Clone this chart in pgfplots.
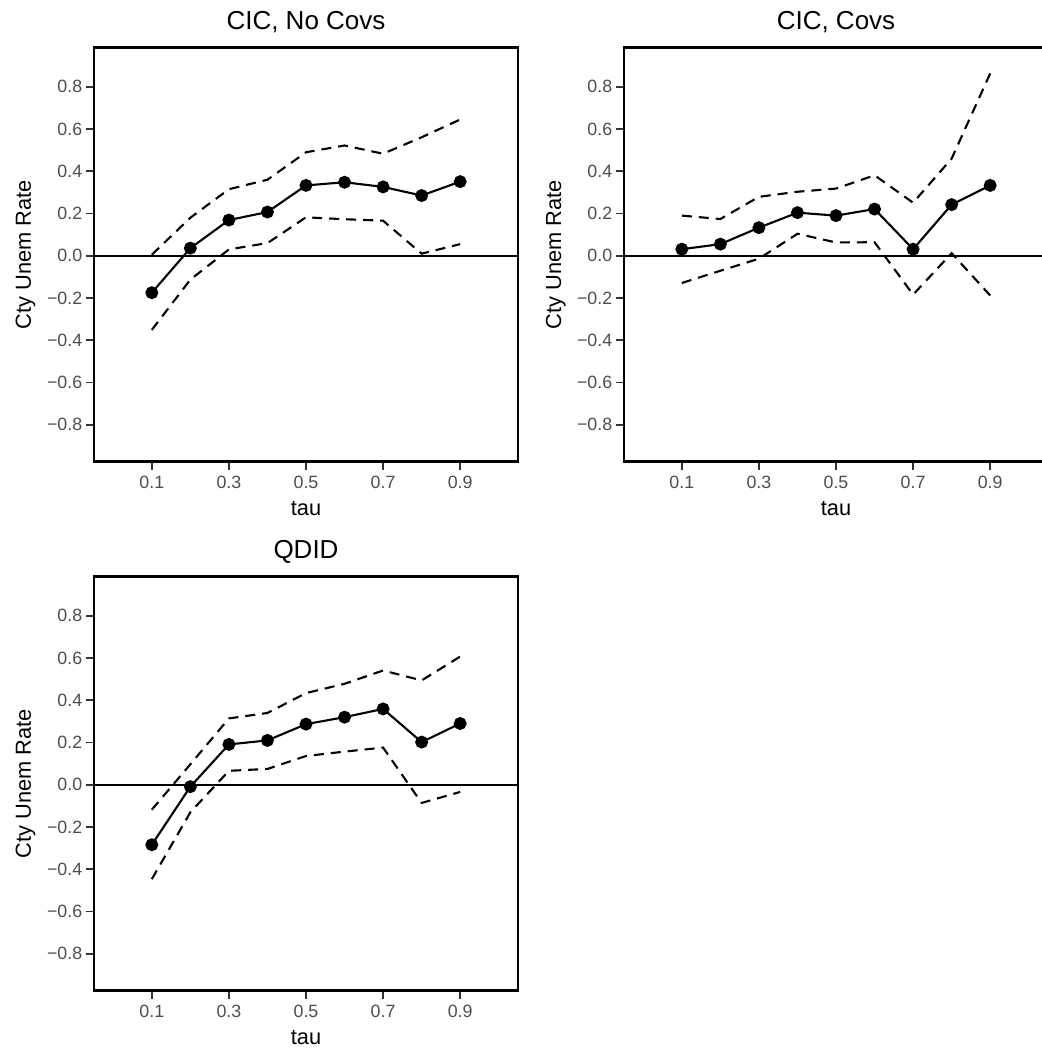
\documentclass[border=0pt]{standalone}
\usepackage{fontspec}
\setmainfont{Liberation Sans}
\usepackage{pgfplots}
\pgfplotsset{compat=1.18}
\definecolor{ticktext}{HTML}{4D4D4D}
\definecolor{tickline}{HTML}{333333}

\pgfplotsset{
  ggpanel/.style={
    scale only axis, width=212pt, height=207pt, anchor=south west,
    xmin=-0.05, xmax=1.05, ymin=-0.975, ymax=0.985,
    axis line style={black, line width=1.25pt},
    tick align=outside, tick pos=left, major tick length=4pt,
    every tick/.style={tickline, line width=0.9pt},
    xtick={0.1,0.3,0.5,0.7,0.9},
    xticklabels={0.1,0.3,0.5,0.7,0.9},
    ytick={-0.8,-0.6,-0.4,-0.2,0,0.2,0.4,0.6,0.8},
    yticklabels={−0.8,−0.6,−0.4,−0.2,0.0,0.2,0.4,0.6,0.8},
    ticklabel style={font=\fontsize{8.9}{10}\selectfont, text=ticktext},
    xticklabel style={anchor=north, inner sep=0pt, yshift=-2.9pt},
    yticklabel style={anchor=east, inner sep=0pt, xshift=-1.7pt},
    xlabel={tau}, ylabel={Cty Unem Rate},
    label style={font=\fontsize{10.9}{12}\selectfont},
    xlabel style={at={(axis description cs:0.5,-0.1304)}, anchor=base},
    ylabel style={at={(axis description cs:-0.1486,0.5)}, anchor=base},
    title style={at={(axis description cs:0.5,1.0154)}, anchor=base,
      font=\fontsize{13}{15}\selectfont},
  },
  ci/.style={black, line width=1.05pt, dash pattern=on 5pt off 3.5pt},
  est/.style={black, line width=1.05pt, mark=*, mark size=2.7pt, mark options={solid}},
  zero/.style={black, line width=1pt},
}

\begin{document}
\begin{tikzpicture}
\path[use as bounding box] (0,0) rectangle (520.5pt,526.5pt);

% CIC, no covariates
\begin{axis}[ggpanel, at={(47pt,295.65pt)}, title={CIC, No Covs}]
\addplot[zero] coordinates {(-0.05,0) (1.05,0)};
\addplot[ci] coordinates {
  (0.1,0.005) (0.2,0.18) (0.3,0.315) (0.4,0.36) (0.5,0.49)
  (0.6,0.522) (0.7,0.483) (0.8,0.561) (0.9,0.645)};
\addplot[ci] coordinates {
  (0.1,-0.351) (0.2,-0.113) (0.3,0.03) (0.4,0.06) (0.5,0.182)
  (0.6,0.173) (0.7,0.166) (0.8,0.01) (0.9,0.055)};
\addplot[est] coordinates {
  (0.1,-0.175) (0.2,0.036) (0.3,0.169) (0.4,0.207) (0.5,0.333)
  (0.6,0.348) (0.7,0.326) (0.8,0.285) (0.9,0.351)};
\end{axis}

% CIC, covariates
\begin{axis}[ggpanel, at={(312pt,295.65pt)}, title={CIC, Covs}]
\addplot[zero] coordinates {(-0.05,0) (1.05,0)};
\addplot[ci] coordinates {
  (0.1,0.19) (0.2,0.174) (0.3,0.279) (0.4,0.303) (0.5,0.318)
  (0.6,0.381) (0.7,0.251) (0.8,0.46) (0.9,0.863)};
\addplot[ci] coordinates {
  (0.1,-0.129) (0.2,-0.071) (0.3,-0.014) (0.4,0.104) (0.5,0.063)
  (0.6,0.064) (0.7,-0.184) (0.8,0.012) (0.9,-0.188)};
\addplot[est] coordinates {
  (0.1,0.031) (0.2,0.055) (0.3,0.133) (0.4,0.204) (0.5,0.19)
  (0.6,0.221) (0.7,0.031) (0.8,0.242) (0.9,0.333)};
\end{axis}

% QDID
\begin{axis}[ggpanel, at={(47pt,31.15pt)}, title={QDID}]
\addplot[zero] coordinates {(-0.05,0) (1.05,0)};
\addplot[ci] coordinates {
  (0.1,-0.118) (0.2,0.097) (0.3,0.314) (0.4,0.34) (0.5,0.434)
  (0.6,0.478) (0.7,0.541) (0.8,0.494) (0.9,0.607)};
\addplot[ci] coordinates {
  (0.1,-0.447) (0.2,-0.13) (0.3,0.066) (0.4,0.075) (0.5,0.136)
  (0.6,0.157) (0.7,0.176) (0.8,-0.086) (0.9,-0.034)};
\addplot[est] coordinates {
  (0.1,-0.284) (0.2,-0.009) (0.3,0.191) (0.4,0.21) (0.5,0.287)
  (0.6,0.32) (0.7,0.359) (0.8,0.202) (0.9,0.29)};
\end{axis}
\end{tikzpicture}
\end{document}
